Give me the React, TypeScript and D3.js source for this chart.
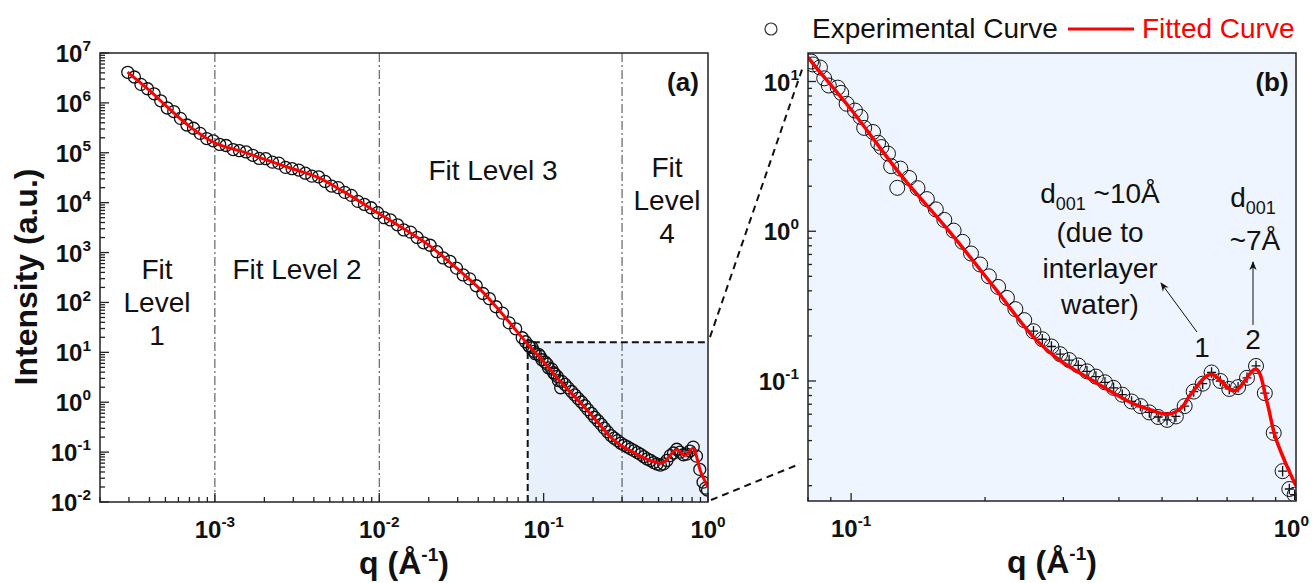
import React from "react";
import * as d3 from "d3";

// experimental SAXS/USAXS points, q in 1/Å, intensity in a.u.
const expQ = [
  2.95e-4, 3.24e-4, 3.55e-4, 3.89e-4, 4.27e-4, 4.68e-4, 5.13e-4, 5.62e-4, 6.17e-4, 6.76e-4,
  7.41e-4, 8.13e-4, 8.91e-4, 9.77e-4, 1.07e-3, 1.17e-3, 1.29e-3, 1.41e-3, 1.55e-3, 1.7e-3,
  1.86e-3, 2.04e-3, 2.24e-3, 2.45e-3, 2.69e-3, 2.95e-3, 3.24e-3, 3.55e-3, 3.89e-3, 4.27e-3,
  4.68e-3, 5.13e-3, 5.62e-3, 6.17e-3, 6.76e-3, 7.41e-3, 8.13e-3, 8.91e-3, 9.77e-3, 0.0107,
  0.0117, 0.0129, 0.0141, 0.0155, 0.017, 0.0186, 0.0204, 0.0224, 0.0245, 0.0269,
  0.0295, 0.0324, 0.0355, 0.0389, 0.0427, 0.0468, 0.0513, 0.0562, 0.0617, 0.0676,
  0.0741, 0.0776,
  0.0813, 0.082, 0.0851, 0.087, 0.0891, 0.0933, 0.095, 0.0977, 0.102, 0.105,
  0.107, 0.112, 0.115, 0.117, 0.121, 0.123, 0.127, 0.129, 0.135, 0.141,
  0.148, 0.155, 0.162, 0.17, 0.178, 0.186, 0.195, 0.204, 0.214, 0.224,
  0.234, 0.245, 0.257, 0.269, 0.282, 0.295, 0.309, 0.324, 0.339, 0.355,
  0.372, 0.389, 0.407, 0.427, 0.447, 0.468, 0.49, 0.513, 0.537, 0.562,
  0.589, 0.617, 0.646, 0.676, 0.708, 0.741, 0.776, 0.813, 0.851, 0.891,
  0.933, 0.966, 0.993,
];
const expI = [
  4.1e6, 3.3e6, 2.35e6, 1.92e6, 1.52e6, 1.1e6, 7.9e5, 6.7e5, 4.9e5, 3.6e5,
  3.1e5, 2.45e5, 1.93e5, 1.74e5, 1.47e5, 1.4e5, 1.16e5, 1.1e5, 1.04e5, 8.9e4,
  7.7e4, 7.6e4, 6.5e4, 6.2e4, 5.1e4, 4.8e4, 4.5e4, 3.9e4, 3.4e4, 3.3e4,
  2.66e4, 2.15e4, 2.0e4, 1.61e4, 1.4e4, 1.06e4, 9.2e3, 7.9e3, 6.3e3, 5.0e3,
  4.5e3, 3.6e3, 2.84e3, 2.57e3, 2.01e3, 1.57e3, 1.4e3, 1.04e3, 780, 668,
  488, 356, 297, 216, 151, 119, 82, 61, 38.9, 29.6,
  19.6, 16.3,
  13.6, 13.0, 12.4, 10.5, 9.4, 9.1, 8.4, 7.1, 6.4, 5.8,
  4.9, 4.6, 3.9, 3.65, 3.3, 2.72, 1.95, 2.62, 2.27, 1.94,
  1.64, 1.4, 1.19, 1.01, 0.85, 0.71, 0.6, 0.5, 0.425, 0.359,
  0.302, 0.255, 0.215, 0.19, 0.17, 0.151, 0.138, 0.127, 0.116, 0.107,
  0.098, 0.09, 0.081, 0.073, 0.068, 0.0617, 0.0575, 0.055, 0.058, 0.068,
  0.085, 0.096, 0.114, 0.1, 0.0885, 0.091, 0.105, 0.126, 0.083, 0.045,
  0.025, 0.019, 0.0174,
];

// unified fit
const fitQ = [
  2.94e-4, 4.0e-4, 5.14e-4, 7.1e-4, 1.0e-3, 1.5e-3, 2.08e-3, 3.0e-3, 4.2e-3, 6.0e-3,
  1.0e-2, 1.5e-2, 2.0e-2, 2.7e-2, 4.0e-2, 5.44e-2, 6.5e-2, 0.08, 0.1, 0.129,
  0.168, 0.21, 0.258, 0.296, 0.341, 0.433, 0.472, 0.516, 0.552, 0.581,
  0.644, 0.726, 0.813, 0.86, 0.897, 0.954, 1.0,
];
const fitI = [
  4.15e6, 1.78e6, 8.24e5, 3.27e5, 1.58e5, 1.03e5, 7.1e4, 4.72e4, 3.24e4, 1.7e4,
  6.0e3, 2.63e3, 1.41e3, 631, 200, 66, 33, 14.5, 6.5, 2.4,
  0.96, 0.42, 0.194, 0.136, 0.105, 0.07, 0.064, 0.06, 0.066, 0.082,
  0.111, 0.086, 0.12, 0.073, 0.043, 0.027, 0.02,
];

const levelLines = [1e-3, 1e-2, 0.3];
const zoomQ = 0.08;
const zoomTop = 16;

const W = 1312;
const FONT = "'Liberation Sans', Arial, Helvetica, sans-serif";
const RED = "#ff0000";

const isPow = (v: number) => Math.abs(Math.log10(v) - Math.round(Math.log10(v))) < 1e-6;

const Pow10 = ({ x, y, v, anchor, size }: any) => {
  const e = Math.round(Math.log10(v));
  return (
    <text x={x} y={y} textAnchor={anchor} fontFamily={FONT} fontWeight="bold" fontSize={size} fill="#111">
      10<tspan dy={-size * 0.45} fontSize={size * 0.64}>{e < 0 ? "-" + -e : e}</tspan>
    </text>
  );
};

const Panel = ({ x, y, r, sw, lw, bg, cross, id, major, minor }: any) => {
  const [x0, x1] = x.range();
  const [y0, y1] = y.range(); // y0 bottom, y1 top
  const line = d3
    .line<number>()
    .x((d) => x(fitQ[d]))
    .y((d) => y(fitI[d]))
    .curve(d3.curveCatmullRom.alpha(0.5));
  const idx = fitQ.map((_, i) => i);
  const xt = x.ticks().filter((v: number) => v >= x.domain()[0] * 0.999 && v <= x.domain()[1] * 1.001);
  const yt = y.ticks().filter((v: number) => v >= y.domain()[0] * 0.999 && v <= y.domain()[1] * 1.001);
  return (
    <g>
      <defs>
        <clipPath id={id}>
          <rect x={x0} y={y1} width={x1 - x0} height={y0 - y1} />
        </clipPath>
      </defs>
      {bg && <rect x={x0} y={y1} width={x1 - x0} height={y0 - y1} fill={bg} />}
      <g clipPath={`url(#${id})`}>
        {expQ.map((q, i) => {
          const cx = x(q);
          const cy = y(expI[i]);
          return (
            <g key={i}>
              <circle cx={cx} cy={cy} r={r} fill="none" stroke="#111" strokeWidth={sw} />
              {cross && q > 0.25 && (
                <path
                  d={`M${cx - r * 0.6},${cy}H${cx + r * 0.6}M${cx},${cy - r * 0.7}V${cy + r * 0.7}`}
                  stroke="#111"
                  strokeWidth={1.3}
                />
              )}
            </g>
          );
        })}
        <path d={line(idx) || ""} fill="none" stroke={RED} strokeWidth={lw} />
      </g>
      {/* frame */}
      <rect x={x0} y={y1} width={x1 - x0} height={y0 - y1} fill="none" stroke="#222" strokeWidth={1.5} />
      {xt.map((v: number, i: number) => (
        <line key={"xt" + i} x1={x(v)} x2={x(v)} y1={y0} y2={y0 - (isPow(v) ? major : minor)} stroke="#222" strokeWidth={1.3} />
      ))}
      {yt.map((v: number, i: number) => (
        <line key={"yt" + i} x1={x0} x2={x0 + (isPow(v) ? major : minor)} y1={y(v)} y2={y(v)} stroke="#222" strokeWidth={1.3} />
      ))}
      {xt.filter(isPow).map((v: number, i: number) => {
        const px = x(v);
        const nearEdge = px + 18 > W - 2;
        return (
          <Pow10 key={"xl" + i} x={nearEdge ? W - 3 : px} y={y0 + 36} v={v} anchor={nearEdge ? "end" : "middle"} size={24} />
        );
      })}
      {yt.filter(isPow).map((v: number, i: number) => (
        <Pow10 key={"yl" + i} x={x0 - 9} y={y(v) + 9} v={v} anchor="end" size={24} />
      ))}
      <text x={(x0 + x1) / 2} y={y0 + 72} textAnchor="middle" fontFamily={FONT} fontWeight="bold" fontSize={32} fill="#111">
        q (Å<tspan dy={-13} fontSize={19}>-1</tspan>
        <tspan dy={13}>)</tspan>
      </text>
    </g>
  );
};

const Lines = ({ x, y, items, size = 28, weight = "normal", fill = "#111", lh = 33 }: any) => (
  <text x={x} y={y} textAnchor="middle" fontFamily={FONT} fontSize={size} fontWeight={weight} fill={fill}>
    {items.map((t: string, i: number) => (
      <tspan key={i} x={x} dy={i === 0 ? 0 : lh}>
        {t}
      </tspan>
    ))}
  </text>
);

export default function App() {
  const xA = d3.scaleLog().domain([2e-4, 1]).range([100, 708]);
  const yA = d3.scaleLog().domain([1e-2, 1e7]).range([502, 53]);
  const xB = d3.scaleLog().domain([0.08, 1]).range([808, 1296]);
  const yB = d3.scaleLog().domain([0.0158, 15.5]).range([501, 53]);

  const bx = xA(zoomQ);
  const by = yA(zoomTop);

  return (
    <svg width={W} height={583} style={{ position: "absolute", left: 0, top: 0, background: "#fff" }}>
      <defs>
        <marker id="ah" viewBox="0 0 10 10" refX="9" refY="5" markerWidth="9" markerHeight="9" orient="auto">
          <path d="M0,1 L10,5 L0,9 L3,5 Z" fill="#111" />
        </marker>
      </defs>
      <rect width={W} height={583} fill="#fff" />

      {/* panel (a) zoom region */}
      <rect x={bx} y={by} width={xA(1) - bx} height={yA(1e-2) - by} fill="#e7f0fb" />
      {levelLines.map((q, i) => (
        <line key={i} x1={xA(q)} x2={xA(q)} y1={53} y2={502} stroke="#444" strokeWidth={1} strokeDasharray="9 3 2 3" />
      ))}
      <path d={`M${bx},${yA(1e-2)}V${by}H${xA(1)}`} fill="none" stroke="#111" strokeWidth={2} strokeDasharray="7 4" />

      <Panel x={xA} y={yA} r={6} sw={1.3} lw={3} id="clipA" major={9} minor={5} />
      <Panel x={xB} y={yB} r={7.5} sw={1} lw={3.5} bg="#eef5fe" cross id="clipB" major={8} minor={4} />

      {/* connector lines */}
      <line x1={xA(1) + 2} y1={by - 5} x2={xB(0.08) - 6} y2={yB(12)} stroke="#111" strokeWidth={2} strokeDasharray="7 5" />
      <line x1={xA(1) + 3} y1={yA(1e-2) - 2} x2={xB(0.08) - 8} y2={yB(0.028)} stroke="#111" strokeWidth={2} strokeDasharray="7 5" />

      {/* axis title */}
      <text
        transform="translate(37,277) rotate(-90)"
        textAnchor="middle"
        fontFamily={FONT}
        fontWeight="bold"
        fontSize={32}
        fill="#111"
      >
        Intensity (a.u.)
      </text>

      {/* panel (a) annotations */}
      <Lines x={157} y={279} items={["Fit", "Level", "1"]} />
      <Lines x={297} y={279} items={["Fit Level 2"]} />
      <Lines x={493} y={180} items={["Fit Level 3"]} />
      <Lines x={667} y={177} items={["Fit", "Level", "4"]} />
      <Lines x={683} y={91} items={["(a)"]} size={26} weight="bold" />
      <Lines x={1272} y={91} items={["(b)"]} size={26} weight="bold" />

      {/* panel (b) annotations */}
      <text x={1100} y={203} textAnchor="middle" fontFamily={FONT} fontSize={28} fill="#111">
        d<tspan dy={7} fontSize={18}>001</tspan>
        <tspan dy={-7}> ~10Å</tspan>
      </text>
      <Lines x={1100} y={242} items={["(due to", "interlayer", "water)"]} lh={36} />
      <text x={1253} y={207} textAnchor="middle" fontFamily={FONT} fontSize={28} fill="#111">
        d<tspan dy={7} fontSize={18}>001</tspan>
      </text>
      <Lines x={1255} y={250} items={["~7Å"]} />
      <Lines x={1202} y={357} items={["1"]} />
      <Lines x={1253} y={349} items={["2"]} />
      <line x1={1197} y1={332} x2={1161} y2={283} stroke="#111" strokeWidth={1} markerEnd="url(#ah)" />
      <line x1={1253} y1={325} x2={1253} y2={262} stroke="#111" strokeWidth={1} markerEnd="url(#ah)" />

      {/* legend */}
      <circle cx={771} cy={29} r={6} fill="none" stroke="#333" strokeWidth={1.2} />
      <text x={812} y={38} fontFamily={FONT} fontSize={28} fill="#111">
        Experimental Curve
      </text>
      <line x1={1068} x2={1134} y1={29} y2={29} stroke={RED} strokeWidth={3} />
      <text x={1142} y={38} fontFamily={FONT} fontSize={28} fill={RED}>
        Fitted Curve
      </text>
    </svg>
  );
}
